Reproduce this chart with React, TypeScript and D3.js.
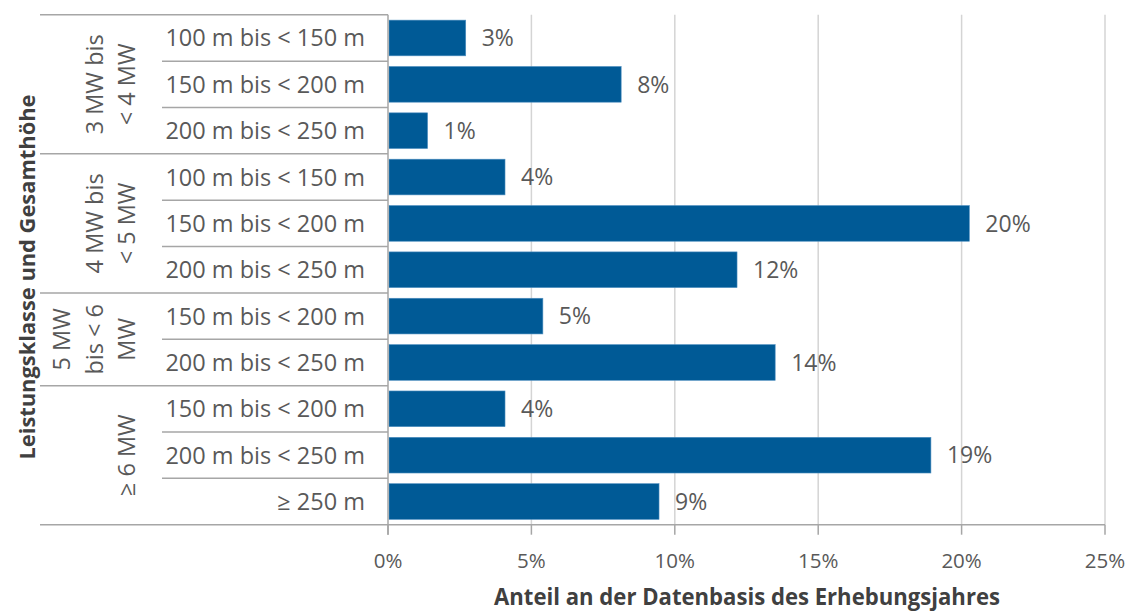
import React from "react";
import * as d3 from "d3";

const groups = ["3 MW bis < 4 MW", "4 MW bis < 5 MW", "5 MW bis < 6 MW", "≥ 6 MW"];
const groupLines: string[][] = [["3 MW bis", "< 4 MW"], ["4 MW bis", "< 5 MW"], ["5 MW", "bis < 6", "MW"], ["≥ 6 MW"]];
const rowGroup = [0, 0, 0, 1, 1, 1, 2, 2, 3, 3, 3];
const rowLabels = [
  "100 m bis < 150 m", "150 m bis < 200 m", "200 m bis < 250 m",
  "100 m bis < 150 m", "150 m bis < 200 m", "200 m bis < 250 m",
  "150 m bis < 200 m", "200 m bis < 250 m",
  "150 m bis < 200 m", "200 m bis < 250 m", "≥ 250 m",
];
const values = [2.71, 8.13, 1.38, 4.08, 20.27, 12.17, 5.4, 13.5, 4.08, 18.93, 9.45];
const xTicks = [0, 5, 10, 15, 20, 25];

const W = 1133, H = 612;
const plotLeft = 388, plotRight = 1105, plotTop = 14.8, plotBottom = 524.7;
const FONT = "'Open Sans', 'Noto Sans', sans-serif";
const BAR = "#005A96";
const AXIS = "#a6a6a6";
const GRID = "#d4d4d4";
const TXT = "#595959";

export default function App() {
  const x = d3.scaleLinear().domain([0, 25]).range([plotLeft, plotRight]);
  const idx = rowLabels.map((_, i) => String(i));
  const band = d3.scaleBand<string>().domain(idx).range([plotTop, plotBottom]).paddingInner(0.23).paddingOuter(0.115);
  const rowH = (plotBottom - plotTop) / rowLabels.length;
  const rowTop = (i: number) => plotTop + i * rowH;

  const groupRange = groups.map((_, g) => {
    const rows = rowGroup.map((v, i) => (v === g ? i : -1)).filter((i) => i >= 0);
    return [rows[0], rows[rows.length - 1]];
  });

  return (
    <svg width={W} height={H} style={{ position: "absolute", left: 0, top: 0, background: "#fff" }} fontFamily={FONT}>
      {xTicks.slice(1).map((t) => (
        <line key={"g" + t} x1={x(t)} x2={x(t)} y1={plotTop} y2={plotBottom} stroke={GRID} strokeWidth={1.5} />
      ))}
      {values.map((v, i) => (
        <rect key={"b" + i} x={x(0) + 1} y={band(String(i))} width={x(v) - x(0) - 1} height={band.bandwidth()} fill={BAR} stroke="#4f8fc0" strokeWidth={0.6} />
      ))}
      {values.map((v, i) => (
        <text key={"l" + i} x={x(v) + 16} y={(band(String(i)) as number) + band.bandwidth() / 2} dy="0.36em" fontSize={23} fill={TXT}>
          {Math.round(v) + "%"}
        </text>
      ))}
      {rowLabels.map((_, i) =>
        i > 0 && rowGroup[i] === rowGroup[i - 1] ? (
          <line key={"rs" + i} x1={162} x2={plotLeft} y1={rowTop(i)} y2={rowTop(i)} stroke={AXIS} strokeWidth={1.5} />
        ) : null
      )}
      {groupRange.map(([a], g) => (
        <line key={"gs" + g} x1={40} x2={plotLeft} y1={rowTop(a)} y2={rowTop(a)} stroke={AXIS} strokeWidth={1.5} />
      ))}
      <line x1={40} x2={plotRight} y1={plotBottom} y2={plotBottom} stroke={AXIS} strokeWidth={1.5} />
      <line x1={plotLeft} x2={plotLeft} y1={plotTop} y2={plotBottom + 10} stroke={AXIS} strokeWidth={1.5} />
      {xTicks.map((t) => (
        <line key={"t" + t} x1={x(t)} x2={x(t)} y1={plotBottom} y2={plotBottom + 10} stroke={AXIS} strokeWidth={1.5} />
      ))}
      {xTicks.map((t) => (
        <text key={"tl" + t} x={x(t)} y={568} textAnchor="middle" fontSize={20.5} fill={TXT}>
          {t + "%"}
        </text>
      ))}
      {rowLabels.map((r, i) => (
        <text key={"r" + i} x={365} y={rowTop(i) + rowH / 2} dy="0.36em" textAnchor="end" fontSize={23.5} fill={TXT}>
          {r}
        </text>
      ))}
      {groupRange.map(([a, b], g) => {
        const cy = (rowTop(a) + rowTop(b + 1)) / 2;
        const lines = groupLines[g];
        return lines.map((ln, j) => {
          const cx = 127 - (lines.length - 1 - j) * 32.5;
          return (
            <text key={"gl" + g + "-" + j} transform={`translate(${cx},${cy}) rotate(-90)`} dy="0.36em" textAnchor="middle" fontSize={23.5} fill={TXT}>
              {ln}
            </text>
          );
        });
      })}
      <text transform={`translate(27,277) rotate(-90)`} dy="0.36em" textAnchor="middle" fontSize={22} fontWeight="bold" fill="#404040" textLength={365} lengthAdjust="spacingAndGlyphs">
        Leistungsklasse und Gesamthöhe
      </text>
      <text x={747} y={605} textAnchor="middle" fontSize={23} fontWeight="bold" fill="#404040" textLength={506} lengthAdjust="spacingAndGlyphs">
        Anteil an der Datenbasis des Erhebungsjahres
      </text>
    </svg>
  );
}
